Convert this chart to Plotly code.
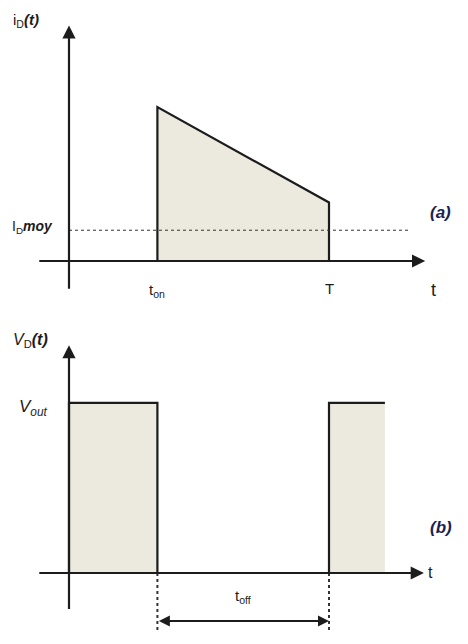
import plotly.graph_objects as go

# Time marks (T = 1 normalised period)
t_on = 0.34
T = 1.0
t_end_b = 1.215          # end of the drawn window in the voltage plot

# (a) diode current waveform
t_a = [t_on, t_on, T, T]
i_a = [0.0, 1.0, 0.38, 0.0]
i_moy = 0.2

# (b) diode voltage waveform
t_b1 = [0.0, 0.0, t_on, t_on]
v_b1 = [0.0, 1.0, 1.0, 0.0]
t_b2 = [T, T, t_end_b, t_end_b]
v_b2 = [0.0, 1.0, 1.0, 0.0]
v_out = 1.0

FILL = "#ECE9DF"
INK = "#1c1c1c"
FONT = "Liberation Sans, Arial, sans-serif"

fig = go.Figure()

# ---------- panel (a) ----------
fig.add_trace(go.Scatter(x=t_a, y=i_a, mode="lines", fill="toself",
                         fillcolor=FILL, line=dict(color=INK, width=2.2),
                         xaxis="x", yaxis="y", hoverinfo="skip"))
fig.add_trace(go.Scatter(x=[0.0, 1.31], y=[i_moy, i_moy], mode="lines",
                         line=dict(color="#333333", width=1, dash="dot"),
                         xaxis="x", yaxis="y", hoverinfo="skip"))

# ---------- panel (b) ----------
fig.add_trace(go.Scatter(x=t_b1 + [0.0], y=v_b1 + [0.0], mode="none", fill="toself",
                         fillcolor=FILL, xaxis="x2", yaxis="y2", hoverinfo="skip"))
fig.add_trace(go.Scatter(x=t_b2 + [T], y=v_b2 + [0.0], mode="none", fill="toself",
                         fillcolor=FILL, xaxis="x2", yaxis="y2", hoverinfo="skip"))
fig.add_trace(go.Scatter(x=t_b1, y=v_b1, mode="lines",
                         line=dict(color=INK, width=2.2),
                         xaxis="x2", yaxis="y2", hoverinfo="skip"))
fig.add_trace(go.Scatter(x=t_b2[:3], y=v_b2[:3], mode="lines",
                         line=dict(color=INK, width=2.2),
                         xaxis="x2", yaxis="y2", hoverinfo="skip"))
# t_off markers
for tx in (t_on, T):
    fig.add_trace(go.Scatter(x=[tx, tx], y=[0.0, -0.35], mode="lines",
                             line=dict(color="#333333", width=2, dash="dot"),
                             xaxis="x2", yaxis="y2", hoverinfo="skip"))

hidden = dict(visible=False, fixedrange=True)
fig.update_layout(
    width=468, height=644, showlegend=False,
    margin=dict(l=0, r=0, t=0, b=0),
    paper_bgcolor="white", plot_bgcolor="white",
    xaxis=dict(domain=[0, 1], range=[-0.2654, 1.5346], **hidden),
    yaxis=dict(domain=[0.5, 1], range=[-0.396, 1.695], **hidden),
    xaxis2=dict(domain=[0, 1], range=[-0.2654, 1.5346], anchor="y2", **hidden),
    yaxis2=dict(domain=[0, 0.5], range=[-0.4176, 1.476], anchor="x2", **hidden),
)

def arrow(x, y, ax, ay, xr, yr, side="end", size=1.2, width=2.2):
    fig.add_annotation(x=x, y=y, ax=ax, ay=ay, xref=xr, yref=yr,
                       axref=xr, ayref=yr, text="", showarrow=True,
                       arrowhead=2, arrowsize=size, arrowwidth=width,
                       arrowcolor=INK, arrowside=side)

# axes with arrow heads
arrow(0, 1.53, 0, -0.19, "x", "y")
arrow(1.37, 0, -0.12, 0, "x", "y")
arrow(0, 1.34, 0, -0.22, "x2", "y2")
arrow(1.365, 0, -0.12, 0, "x2", "y2")
# t_off span
arrow(T, -0.283, t_on, -0.283, "x2", "y2", side="end+start", size=1.1, width=2)

def label(x, y, text, xr, yr, size=13, color=INK, xanchor="center"):
    fig.add_annotation(x=x, y=y, xref=xr, yref=yr, text=text, showarrow=False,
                       font=dict(family=FONT, size=size, color=color),
                       xanchor=xanchor, yanchor="middle")

# panel (a) labels
label(-0.225, 1.56, "i<sub>D</sub><b><i>(t)</i></b>", "x", "y", size=15, xanchor="left")
label(-0.228, i_moy + 0.02, "I<sub>D</sub><b><i>moy</i></b>", "x", "y", size=14, xanchor="left")
label(t_on, -0.19, "t<sub>on</sub>", "x", "y", size=15)
label(T, -0.18, "T", "x", "y", size=15)
label(1.403, -0.19, "t", "x", "y", size=18)
label(1.43, 0.318, "<b><i>(a)</i></b>", "x", "y", size=17, color="#1b1f55")

# panel (b) labels
label(-0.225, 1.37, "<i>V</i><sub>D</sub><b><i>(t)</i></b>", "x2", "y2", size=16, xanchor="left")
label(-0.2, v_out - 0.03, "<i>V<sub>out</sub></i>", "x2", "y2", size=17, xanchor="left")
label(1.39, 0, "t", "x2", "y2", size=16)
label((t_on + T) / 2, -0.14, "t<sub>off</sub>", "x2", "y2", size=15)
label(1.43, 0.27, "<b><i>(b)</i></b>", "x2", "y2", size=17, color="#1b1f55")

fig.write_html("out.html")
